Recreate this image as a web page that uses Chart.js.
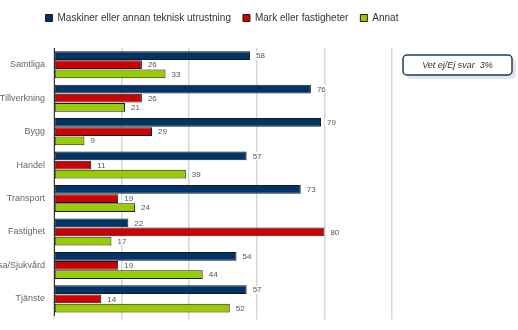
<!DOCTYPE html>
<html>
<head>
<meta charset="utf-8">
<script src="https://cdn.jsdelivr.net/npm/chart.js@4"></script>
<style>
  html, body { margin: 0; padding: 0; background: #fff; }
  #wrap { width: 518px; height: 330px; }
</style>
</head>
<body>
<div id="wrap"><canvas id="chart" width="518" height="330"></canvas></div>
<script>
// Chart data
const categories = ['Samtliga', 'Tillverkning', 'Bygg', 'Handel', 'Transport', 'Fastighet', 'Vård/Hälsa/Sjukvård', 'Tjänste'];
const maskiner = [58, 76, 79, 57, 73, 22, 54, 57];
const mark = [26, 26, 29, 11, 19, 80, 19, 14];
const annat = [33, 21, 9, 39, 24, 17, 44, 52];
const seriesNames = ['Maskiner eller annan teknisk utrustning', 'Mark eller fastigheter', 'Annat'];
const noteText = 'Vet ej/Ej svar  3%';

const FONT = '"Liberation Sans", Arial, sans-serif';

// value labels to the right of each bar, on a white patch
const valueLabels = {
  id: 'valueLabels',
  afterDatasetsDraw(chart) {
    const ctx = chart.ctx;
    ctx.save();
    ctx.font = '8px ' + FONT;
    ctx.textBaseline = 'middle';
    chart.data.datasets.forEach((ds, i) => {
      chart.getDatasetMeta(i).data.forEach((bar, j) => {
        const txt = String(ds.data[j]);
        const w = ctx.measureText(txt).width;
        const x = bar.x + 6;
        ctx.fillStyle = '#fff';
        ctx.fillRect(x - 2, bar.y - 4, w + 4, 8);
        ctx.fillStyle = '#555';
        ctx.fillText(txt, x, bar.y + 0.5);
      });
    });
    ctx.restore();
  }
};

// more room under the legend, and centre it over the plot
const legendSpace = {
  id: 'legendSpace',
  beforeInit(chart) {
    const fit = chart.legend.fit;
    chart.legend.fit = function () {
      fit.call(this);
      this.height += 15;
    };
  },
  afterLayout(chart) {
    chart.legend.left += 26;
    chart.legend.right += 26;
  }
};

// "Vet ej" box at the right
const noteBox = {
  id: 'noteBox',
  afterDraw(chart) {
    const ctx = chart.ctx;
    const x = 403, y = 55, w = 109, h = 20, r = 4;
    ctx.save();
    ctx.fillStyle = '#e3e6ea';
    ctx.beginPath();
    ctx.roundRect(x + 4, y + 4, w, h, r);
    ctx.fill();
    ctx.fillStyle = '#fff';
    ctx.strokeStyle = '#1f3b63';
    ctx.lineWidth = 1.5;
    ctx.beginPath();
    ctx.roundRect(x, y, w, h, r);
    ctx.fill();
    ctx.stroke();
    ctx.fillStyle = '#333';
    ctx.font = 'italic 9px ' + FONT;
    ctx.textAlign = 'center';
    ctx.textBaseline = 'middle';
    ctx.fillText(noteText, x + w / 2, y + h / 2 + 0.5);
    ctx.restore();
  }
};

new Chart(document.getElementById('chart'), {
  type: 'bar',
  data: {
    labels: categories,
    datasets: [
      { label: seriesNames[0], data: maskiner, backgroundColor: '#003366' },
      { label: seriesNames[1], data: mark, backgroundColor: '#cc0000' },
      { label: seriesNames[2], data: annat, backgroundColor: '#99cc00' }
    ].map(d => Object.assign(d, {
      borderColor: '#1a1a1a',
      borderWidth: 1,
      borderSkipped: false,
      categoryPercentage: 0.82,
      barPercentage: 0.96
    }))
  },
  options: {
    indexAxis: 'y',
    responsive: false,
    animation: false,
    layout: { padding: { top: 1, bottom: 0, left: 0, right: 126 } },
    plugins: {
      legend: {
        position: 'top',
        labels: {
          boxWidth: 7,
          boxHeight: 7,
          padding: 12,
          color: '#333',
          font: { family: FONT, size: 10 }
        }
      },
      tooltip: { enabled: false }
    },
    scales: {
      x: {
        min: 0,
        max: 100,
        ticks: { stepSize: 20, display: false },
        grid: { color: '#d6d6d6', lineWidth: 1.5, tickLength: 4 },
        border: { display: false }
      },
      y: {
        grid: { display: false, drawTicks: false },
        border: { display: true, color: '#333', width: 1 },
        ticks: { color: '#666', padding: 9, font: { family: FONT, size: 9 } },
        afterFit(scale) { scale.width = 54; }
      }
    }
  },
  plugins: [valueLabels, legendSpace, noteBox]
});
</script>
</body>
</html>
